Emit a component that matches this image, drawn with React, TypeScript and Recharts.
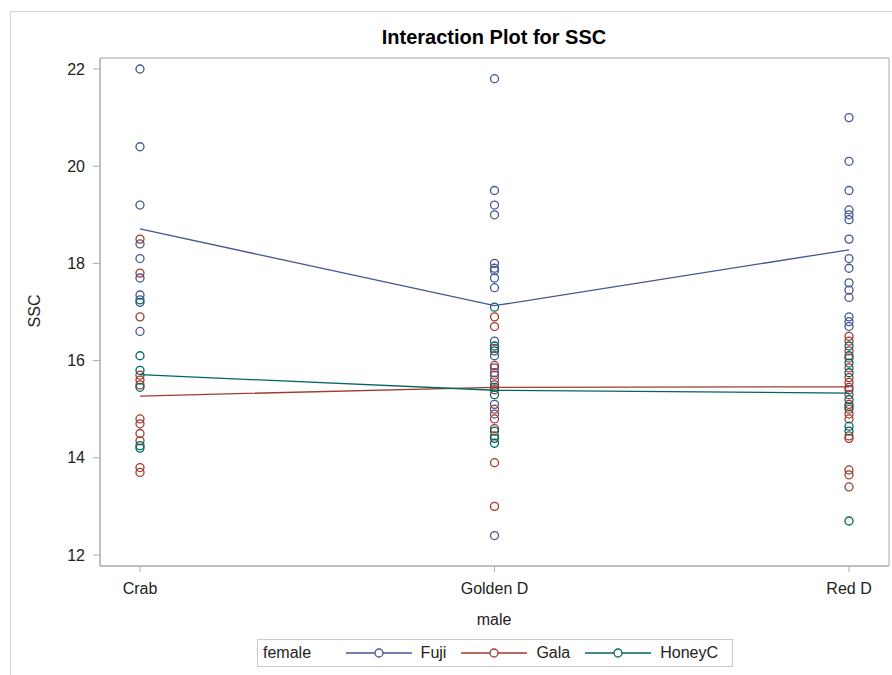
import { ScatterChart, Scatter, XAxis, YAxis, ReferenceArea, Legend } from 'recharts'

// male varieties on the x axis
const categories = ['Crab', 'Golden D', 'Red D']

// SSC values per female group, one inner list per male category
const fujiValues = [
  [22.0, 20.4, 19.2, 18.4, 18.1, 17.7, 17.35, 17.25, 16.6],
  [21.8, 19.5, 19.2, 19.0, 18.0, 17.9, 17.85, 17.7, 17.5, 16.4, 16.1, 15.85, 15.75, 15.6, 15.1, 14.9, 12.4],
  [21.0, 20.1, 19.5, 19.1, 19.0, 18.9, 18.5, 18.1, 17.9, 17.6, 17.45, 17.3, 16.9, 16.8, 16.7, 15.4],
]
const galaValues = [
  [18.5, 17.8, 16.9, 15.7, 15.6, 15.5, 14.8, 14.7, 14.5, 14.35, 13.8, 13.7],
  [16.9, 16.7, 16.25, 15.9, 15.7, 15.5, 15.4, 15.0, 14.8, 14.6, 14.45, 13.9, 13.0],
  [16.5, 16.4, 16.2, 16.05, 15.85, 15.65, 15.55, 15.45, 15.3, 15.1, 15.0, 14.9, 14.8, 14.45, 14.4, 13.75, 13.65, 13.4],
]
const honeyValues = [
  [17.2, 16.1, 15.8, 15.45, 14.25, 14.2],
  [17.1, 16.3, 16.2, 15.45, 15.3, 14.55, 14.4, 14.3],
  [16.3, 16.1, 15.95, 15.75, 15.2, 15.05, 14.65, 14.55, 12.7],
]

// cell means joined by the interaction lines
const fujiMeans = [18.71, 17.13, 18.28]
const galaMeans = [15.27, 15.45, 15.46]
const honeyMeans = [15.71, 15.39, 15.33]

const yTicks = [12, 14, 16, 18, 20, 22]

const X_MIN = -0.1128
const X_MAX = 2.1128
const Y_MIN = 11.774
const Y_MAX = 22.226

const FONT = '"Liberation Sans", Arial, sans-serif'
const AXIS = '#a6acb0'

const series = [
  { name: 'Fuji', color: '#445694', values: fujiValues, means: fujiMeans },
  { name: 'Gala', color: '#a23a2e', values: galaValues, means: galaMeans },
  { name: 'HoneyC', color: '#01665e', values: honeyValues, means: honeyMeans },
]

const toPoints = (cols: number[][]) =>
  cols.flatMap((vals, i) => vals.map(v => ({ x: i, y: v })))

const toMeanPoints = (means: number[]) => means.map((v, i) => ({ x: i, y: v }))

const ringShape = (color: string) => (props: any) => {
  const { cx, cy } = props
  if (cx == null || cy == null) return <g />
  return <circle cx={cx} cy={cy} r={4} fill="none" stroke={color} strokeWidth={1.3} />
}

const noShape = () => <g />

function LegendBox() {
  return (
    <div style={{
      width: 474, height: 26, border: '1px solid #c8cbcd', display: 'flex',
      alignItems: 'center', fontFamily: FONT, fontSize: 16, color: '#222', boxSizing: 'content-box'
    }}>
      <span style={{ marginLeft: 5, width: 82 }}>female</span>
      {series.map(s => (
        <span key={s.name} style={{ display: 'flex', alignItems: 'center', marginRight: 14 }}>
          <svg width={68} height={12} style={{ marginRight: 8 }}>
            <line x1={1} y1={6} x2={67} y2={6} stroke={s.color} strokeWidth={1.3} />
            <circle cx={34} cy={6} r={4} fill="#fff" stroke={s.color} strokeWidth={1.3} />
          </svg>
          <span>{s.name}</span>
        </span>
      ))}
    </div>
  )
}

export default function App() {
  return (
    <div style={{ position: 'absolute', left: 0, top: 0, width: 892, height: 675, background: '#fff', overflow: 'hidden', fontFamily: FONT }}>
      {/* outer graph frame */}
      <div style={{ position: 'absolute', left: 10, top: 11, width: 900, height: 700, borderLeft: '1px solid #d4d4d4', borderTop: '1px solid #d4d4d4' }} />

      <div style={{ position: 'absolute', left: 0, width: 988, top: 26, textAlign: 'center', fontWeight: 'bold', fontSize: 20, color: '#000' }}>
        Interaction Plot for SSC
      </div>

      <div style={{ position: 'absolute', left: 0, width: 988, top: 611, textAlign: 'center', fontSize: 16, color: '#222' }}>
        male
      </div>

      <div style={{ position: 'absolute', left: 35, top: 311, transform: 'translate(-50%, -50%) rotate(-90deg)', fontSize: 16, color: '#222' }}>
        SSC
      </div>

      <ScatterChart width={892} height={675} margin={{ top: 58, right: 3, bottom: 79, left: 40 }}>
        <XAxis
          type="number"
          dataKey="x"
          domain={[X_MIN, X_MAX]}
          ticks={[0, 1, 2]}
          tickFormatter={(v: number) => categories[v] ?? ''}
          height={30}
          stroke={AXIS}
          tickSize={6}
          tickMargin={11}
          tick={{ fill: '#222', fontSize: 16, fontFamily: FONT }}
          allowDataOverflow
        />
        <YAxis
          type="number"
          dataKey="y"
          domain={[Y_MIN, Y_MAX]}
          ticks={yTicks}
          width={60}
          stroke={AXIS}
          tickSize={7}
          tickMargin={8}
          tick={{ fill: '#222', fontSize: 16, fontFamily: FONT }}
          allowDataOverflow
        />
        <ReferenceArea x1={X_MIN} x2={X_MAX} y1={Y_MIN} y2={Y_MAX} fill="none" stroke={AXIS} strokeOpacity={1} ifOverflow="visible" />
        {series.map(s => (
          <Scatter
            key={s.name + '-pts'}
            name={s.name}
            data={toPoints(s.values)}
            shape={ringShape(s.color)}
            isAnimationActive={false}
          />
        ))}
        {series.map(s => (
          <Scatter
            key={s.name + '-mean'}
            data={toMeanPoints(s.means)}
            line={{ stroke: s.color, strokeWidth: 1.3 }}
            shape={noShape}
            legendType="none"
            isAnimationActive={false}
          />
        ))}
        <Legend
          layout="horizontal"
          verticalAlign="middle"
          align="center"
          content={() => <LegendBox />}
          wrapperStyle={{ left: 257, top: 639, width: 476, height: 28 }}
        />
      </ScatterChart>
    </div>
  )
}
